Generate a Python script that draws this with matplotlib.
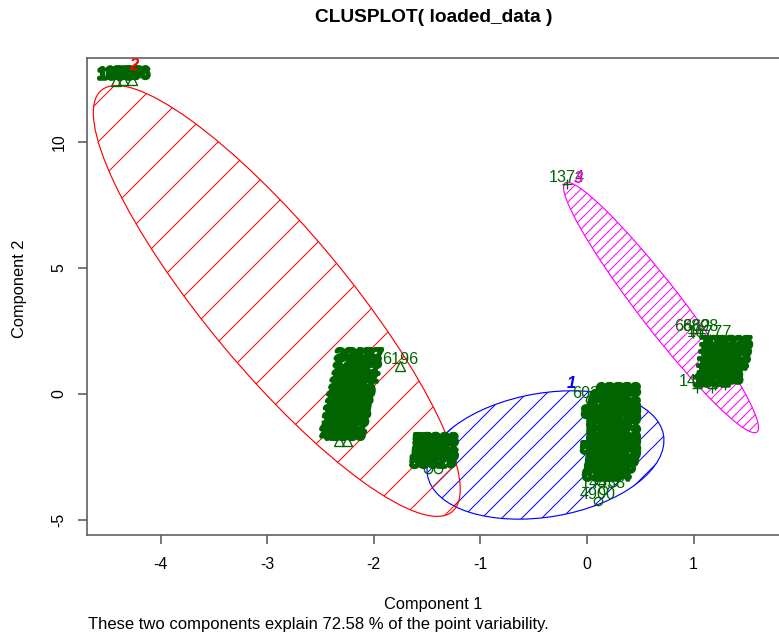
import numpy as np
import matplotlib
matplotlib.use('Agg')
import matplotlib.pyplot as plt
import matplotlib.patheffects as pe
from matplotlib.patches import Ellipse
from matplotlib.transforms import Affine2D

# point coordinates (component 1, component 2) and their row ids, per cluster
clus1_x = [-1.46, -1.38, -1.46, -1.38, -1.47, -1.38, -1.49, -1.40,
           0.26, 0.33, 0.20, 0.33, 0.18, 0.33, 0.17, 0.33, 0.17, 0.33,
           0.17, 0.33, 0.17, 0.33, 0.17, 0.33, 0.17, 0.33, 0.17, 0.33,
           0.16, 0.31, 0.15, 0.28, 0.13, 0.24,
           0.03, 0.12, 0.11, 0.15, 0.10]
clus1_y = [-2.10, -2.10, -2.38, -2.38, -2.66, -2.66, -2.98, -2.96,
           -0.12, -0.12, -0.40, -0.40, -0.67, -0.67, -0.95, -0.95, -1.23, -1.23,
           -1.51, -1.51, -1.79, -1.79, -2.06, -2.06, -2.34, -2.34, -2.62, -2.62,
           -2.90, -2.90, -3.17, -3.17, -3.49, -3.49,
           -0.24, -1.00, -2.42, -3.81, -4.25]
clus1_lab = ['5309', '5318', '5324', '5337', '5341', '5356', '5362', '5379',
             '6081', '6093', '6104', '6117', '6125', '6138', '6142', '6159', '6163', '6170',
             '6184', '6191', '6205', '6212', '6226', '6233', '6247', '6258', '6264', '6279',
             '6281', '6290', '6302', '6315', '6327', '6334',
             '6033', '8513', '5172', '14438', '4900']

clus2_x = [-4.42, -4.35, -4.27,
           -2.19, -2.08, -2.20, -2.10, -2.21, -2.11, -2.22, -2.13,
           -2.24, -2.15, -2.25, -2.16, -2.27, -2.18, -2.28, -2.20,
           -2.30, -2.20, -2.31, -2.22, -2.33, -2.24, -2.33, -2.25,
           -1.75]
clus2_y = [12.42, 12.45, 12.45,
           1.27, 1.27, 0.99, 0.99, 0.71, 0.71, 0.40, 0.40,
           0.12, 0.12, -0.16, -0.16, -0.44, -0.44, -0.71, -0.71,
           -0.99, -0.99, -1.31, -1.31, -1.59, -1.59, -1.87, -1.87,
           1.11]
clus2_lab = ['1683', '1527', '1796',
             '2043', '2187', '2210', '2398', '2456', '2511', '2634', '2702',
             '2815', '2977', '3042', '3109', '3265', '3318', '3471', '3590',
             '3624', '3788', '3851', '3906', '4013', '4172', '4235', '4389',
             '6196']

clus3_x = [-0.19, 0.99, 1.06, 1.15,
           1.23, 1.38, 1.23, 1.37, 1.22, 1.36, 1.21, 1.34, 1.20, 1.31, 1.20, 1.29,
           1.03, 1.17]
clus3_y = [8.33, 2.42, 2.42, 2.18,
           1.75, 1.75, 1.47, 1.47, 1.19, 1.19, 0.91, 0.91, 0.63, 0.63, 0.36, 0.36,
           0.24, 0.24]
clus3_lab = ['1374', '6662', '8898', '16777',
             '7012', '7025', '7031', '7046', '7058', '7063', '7079', '7084', '7090', '7107', '7113', '7128',
             '1461', '1502']

# ids that stand apart from the dense blocks
solo_lab = ['6196', '1374', '6033', '14438', '4900', '1461', '6662', '8898', '16777']

# ellipses: centre and the two half-axis vectors, in data units
ell_cx = [-0.39, -2.91, 0.694]
ell_cy = [-2.42, 3.69, 3.43]
ell_ax = [(1.107, 0.794), (1.645, -8.36), (0.90, -4.94)]
ell_bx = [(0.098, -2.42), (0.505, 1.78), (0.163, 0.532)]
ell_col = ['blue', 'red', 'magenta']
ell_hatch = ['//', '/', '////']

# cluster numbers
num_x = [-0.15, -4.25, -0.08]
num_y = [0.40, 13.02, 8.55]

pt_col = '#006400'

plt.rcParams['font.family'] = ['Liberation Sans', 'DejaVu Sans']
plt.rcParams['hatch.linewidth'] = 0.6
plt.rcParams['axes.unicode_minus'] = False

fig = plt.figure(figsize=(779 / 120, 635 / 120), dpi=120)
ax = fig.add_axes([87 / 779, 100 / 635, 693 / 779, 477 / 635])
ax.set_xlim(-4.69, 1.81)
ax.set_ylim(-5.595, 13.33)

for i in range(3):
    m = Affine2D().from_values(ell_ax[i][0], ell_ax[i][1], ell_bx[i][0], ell_bx[i][1],
                               ell_cx[i], ell_cy[i])
    e = Ellipse((0, 0), 2, 2, facecolor='none', edgecolor=ell_col[i],
                hatch=ell_hatch[i], lw=0.7, zorder=1)
    e.set_transform(m + ax.transData)
    ax.add_patch(e)

clusters = [(clus1_x, clus1_y, clus1_lab, 'o', 5),
            (clus2_x, clus2_y, clus2_lab, '^', 5.5),
            (clus3_x, clus3_y, clus3_lab, '+', 6)]
thick = [pe.withStroke(linewidth=2.2, foreground=pt_col)]
for xs, ys, labs, mk, ms in clusters:
    ax.plot(xs, ys, linestyle='none', marker=mk, ms=ms, mfc='none', mec=pt_col,
            mew=0.8, zorder=2)
    for x, y, lab in zip(xs, ys, labs):
        t = ax.annotate(lab, (x, y), xytext=(0, 1.2), textcoords='offset points',
                        ha='center', va='baseline', color=pt_col, fontsize=9.7, zorder=3)
        if lab not in solo_lab:
            t.set_path_effects(thick)

for i in range(3):
    ax.text(num_x[i], num_y[i], str(i + 1), color=ell_col[i], fontsize=10,
            fontweight='bold', style='italic', ha='center', va='center', zorder=4)

ax.set_xticks([-4, -3, -2, -1, 0, 1])
ax.set_yticks([-5, 0, 5, 10])
for s in ax.spines.values():
    s.set_color('#606060')
    s.set_linewidth(1.0)
ax.tick_params(direction='out', length=5.4, width=1.0, color='#606060', labelsize=9.5)
ax.tick_params(axis='x', pad=8)
ax.tick_params(axis='y', pad=7, labelrotation=90)
for lab in ax.get_yticklabels():
    lab.set_va('center')

fig.text(433.5 / 779, 1 - 18 / 635, 'CLUSPLOT( loaded_data )', ha='center', va='center',
         fontsize=11.5, fontweight='bold')
fig.text(433.5 / 779, 1 - 604 / 635, 'Component 1', ha='center', va='center', fontsize=9.8)
fig.text(20 / 779, 1 - 289 / 635, 'Component 2', ha='center', va='center', fontsize=9.8,
         rotation=90)
fig.text(88 / 779, 1 - 624 / 635,
         'These two components explain 72.58 % of the point variability.',
         ha='left', va='center', fontsize=10)

fig.savefig('out.png', dpi=120)
